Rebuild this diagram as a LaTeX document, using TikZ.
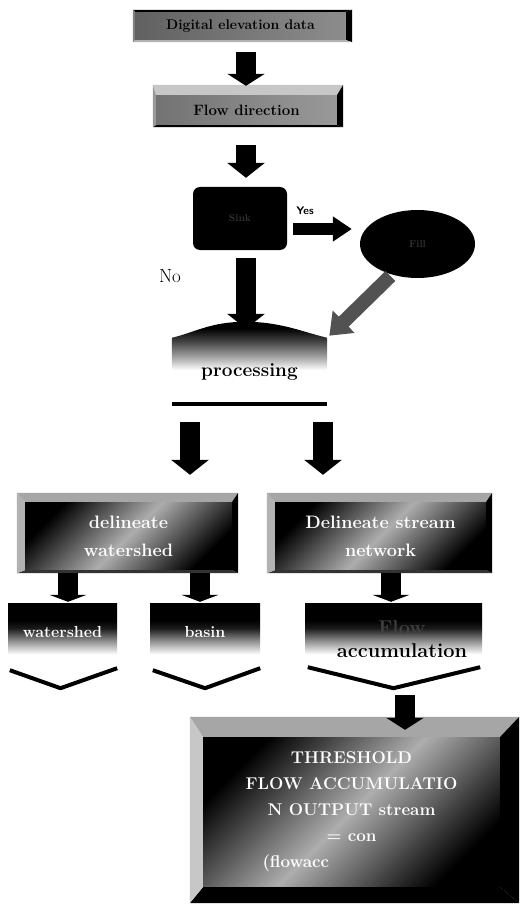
\documentclass[tikz,border=0pt]{standalone}
\usetikzlibrary{arrows.meta,calc,shapes.geometric}
\pgfdeclareverticalshading{fadedown}{100bp}{color(0bp)=(white); color(30bp)=(white); color(42bp)=(black!45); color(53bp)=(black!90); color(60bp)=(black); color(100bp)=(black)}
\pgfdeclareverticalshading{moundfade}{100bp}{color(0bp)=(white); color(37bp)=(white); color(47bp)=(black!35); color(60bp)=(black!75); color(70bp)=(black); color(100bp)=(black)}
% name, top, right, bottom, left widths, then colours top, right, bottom, left
\newcommand\bevelframe[9]{%
  \fill[#6] (#1.north west) -- (#1.north east) -- ++(#3,-#2) -- ($(#1.north west)+(-#5,-#2)$) -- cycle;
  \fill[#7] (#1.north east) -- ++(#3,-#2) -- ($(#1.south east)+(#3,#4)$) -- (#1.south east) -- cycle;
  \fill[#8] (#1.south east) -- ++(#3,#4) -- ($(#1.south west)+(-#5,#4)$) -- (#1.south west) -- cycle;
  \fill[#9] (#1.south west) -- ++(-#5,#4) -- ($(#1.north west)+(-#5,-#2)$) -- (#1.north west) -- cycle;
}
\begin{document}
\begin{tikzpicture}[x=1pt,y=-1pt,
  face/.style={inner sep=0pt, top color=black, bottom color=black, middle color=black!32, shading angle=45, align=center, text=white},
  blk/.style={line width=20pt, black, -{Triangle[width=37pt,length=15pt]}},
  tarrow/.style={line width=20pt, black, -{Triangle[width=37pt,length=7pt]}},
  smallbox/.style={inner sep=0pt, shading=fadedown, minimum height=57pt, align=center},
  chev/.style={line width=4pt, line join=round},
  bigfont/.style={font=\fontsize{18}{28}\selectfont\bfseries}
]
\useasboundingbox (0,0) rectangle (519,904);
\fill[white] (0,0) rectangle (519,904);

\coordinate (ax) at (246,0);
% top boxes
\node[inner sep=0pt, minimum width=211pt, minimum height=28pt, left color=black!62, right color=black!45,
      font=\fontsize{14}{16}\selectfont\bfseries] (b1) at (240.5,26) {Digital elevation data};
\bevelframe{b1}{2}{6}{2}{2}{black}{black}{black!30}{black!50}

\node[inner sep=0pt, minimum width=181pt, minimum height=30pt, left color=black!55, right color=black!40,
      font=\fontsize{15}{17}\selectfont\bfseries] (b2) at (246.5,110) {Flow direction};
\bevelframe{b2}{10}{6}{2}{3}{black!22}{black}{black}{black!40}

\draw[blk, -{Triangle[width=37pt,length=12pt]}, shorten <=12pt, shorten >=9pt] (ax |- b1.south) -- (ax |- b2.north);

% decision
\node[fill=black, rounded corners=7pt, minimum width=94pt, minimum height=63pt, inner sep=0pt,
      text=black!80, font=\fontsize{10}{12}\selectfont\bfseries] (dec) at (240,218.5) {Sink};
\draw[blk, shorten <=20pt, shorten >=9pt] (ax |- b2.south) -- (ax |- dec.north);

\node[ellipse, fill=black, minimum width=115pt, minimum height=68pt, inner sep=0pt,
      text=black!80, font=\fontsize{10}{12}\selectfont\bfseries] (ell) at (417.5,244) {Fill};
\coordinate (ya) at (0,229);
\draw[line width=12pt, black, -{Triangle[width=24pt,length=19pt]}, shorten <=6pt, shorten >=8pt]
  (dec.east |- ya) -- (ell.west |- ya);
\node[font=\sffamily\bfseries\fontsize{11}{12}\selectfont] (yes) at (305,211) {Yes};
\node[font=\fontsize{19}{20}\selectfont] (no) at (170,276) {No};

% processing
\node[inner sep=0pt, minimum width=155pt, minimum height=47pt] (proc) at (249.5,361.5) {};
\shade[shading=moundfade] (proc.south west) -- (proc.north west)
   .. controls +(25,-6) and +(-35,0) .. ($(proc.north)+(-4,-16)$)
   .. controls +(35,0) and +(-25,-6) .. (proc.north east) -- (proc.south east) -- cycle;
\node[font=\fontsize{19}{22}\selectfont\bfseries] (proctext) at ($(proc.south)+(0,-13)$) {processing};
\draw[blk, -{Triangle[width=30pt,length=20pt]}, line width=14pt, black!68, shorten <=2pt, shorten >=3pt]
  (ell.230) -- (proc.north east);
\draw[blk, shorten <=8pt, shorten >=9pt] (ax |- dec.south) -- (ax |- proc.north);

\coordinate (pl) at (172,404);
\coordinate (pr) at (327,404);
\draw[line width=4pt] (pl) -- (pr);

% big boxes
\node[face, minimum width=207pt, minimum height=68pt, bigfont] (lb) at (128.5,536) {delineate\\watershed};
\bevelframe{lb}{9}{6}{3}{8}{black!35}{black}{black!80}{black!30}
\node[face, minimum width=211pt, minimum height=68pt, bigfont] (rb) at (380.5,536) {Delineate stream\\network};
\bevelframe{rb}{9}{6}{3}{8}{black!35}{black}{black!80}{black!30}

\coordinate (xl) at (190,0);
\coordinate (xr) at (323,0);
\draw[blk, shorten <=18pt, shorten >=27pt] (xl |- pl) -- (xl |- lb.north);
\draw[blk, shorten <=18pt, shorten >=27pt] (xr |- pr) -- (xr |- rb.north);

% small boxes
\node[smallbox, minimum width=109pt, text=white, font=\fontsize{16}{18}\selectfont\bfseries] (ws) at (62.5,631.5) {watershed};
\node[smallbox, minimum width=110pt, text=white, font=\fontsize{16}{18}\selectfont\bfseries] (bs) at (205,631.5) {basin};
\node[smallbox, minimum width=177pt] (acc) at (393.5,631.5) {};
\node[align=center, font=\fontsize{20}{23}\selectfont\bfseries] (acct) at (402,639)
  {\textcolor{black!75}{Flow}\\accumulation};

\coordinate (x1) at (68,0);
\coordinate (x2) at (200,0);
\coordinate (x3) at (391,0);
\draw[tarrow, shorten <=3pt, shorten >=1pt] (x1 |- lb.south) -- (x1 |- ws.north);
\draw[tarrow, shorten <=3pt, shorten >=1pt] (x2 |- lb.south) -- (x2 |- bs.north);
\draw[tarrow, shorten <=3pt, shorten >=1pt] (x3 |- rb.south) -- (x3 |- acc.north);

\draw[chev] ($(ws.south west)+(2,10)$) -- ($(ws.south)+(-2,28)$) -- ($(ws.south east)+(0,8)$);
\draw[chev] ($(bs.south west)+(3,10)$) -- ($(bs.south)+(0,28)$) -- ($(bs.south east)+(0,8)$);
\draw[chev] ($(acc.south west)+(3,7)$) -- ($(acc.south)+(0,28)$) -- ($(acc.south east)+(-2,7)$);

% bottom box
\node[face, minimum width=297pt, minimum height=150pt, font=\fontsize{17}{26}\selectfont\bfseries] (tb) at (351.5,812)
  {THRESHOLD\\FLOW ACCUMULATIO\\N OUTPUT stream\\= con\\\makebox[178pt][l]{(flowacc}};
\bevelframe{tb}{20}{19}{16}{13}{black!35}{black}{black}{black!22}
\coordinate (xa) at (405,0);
\draw[blk, -{Triangle[width=37pt,length=12pt]}, shorten <=35pt, shorten >=7pt] (xa |- acc.south) -- (xa |- tb.north);
\end{tikzpicture}
\end{document}
